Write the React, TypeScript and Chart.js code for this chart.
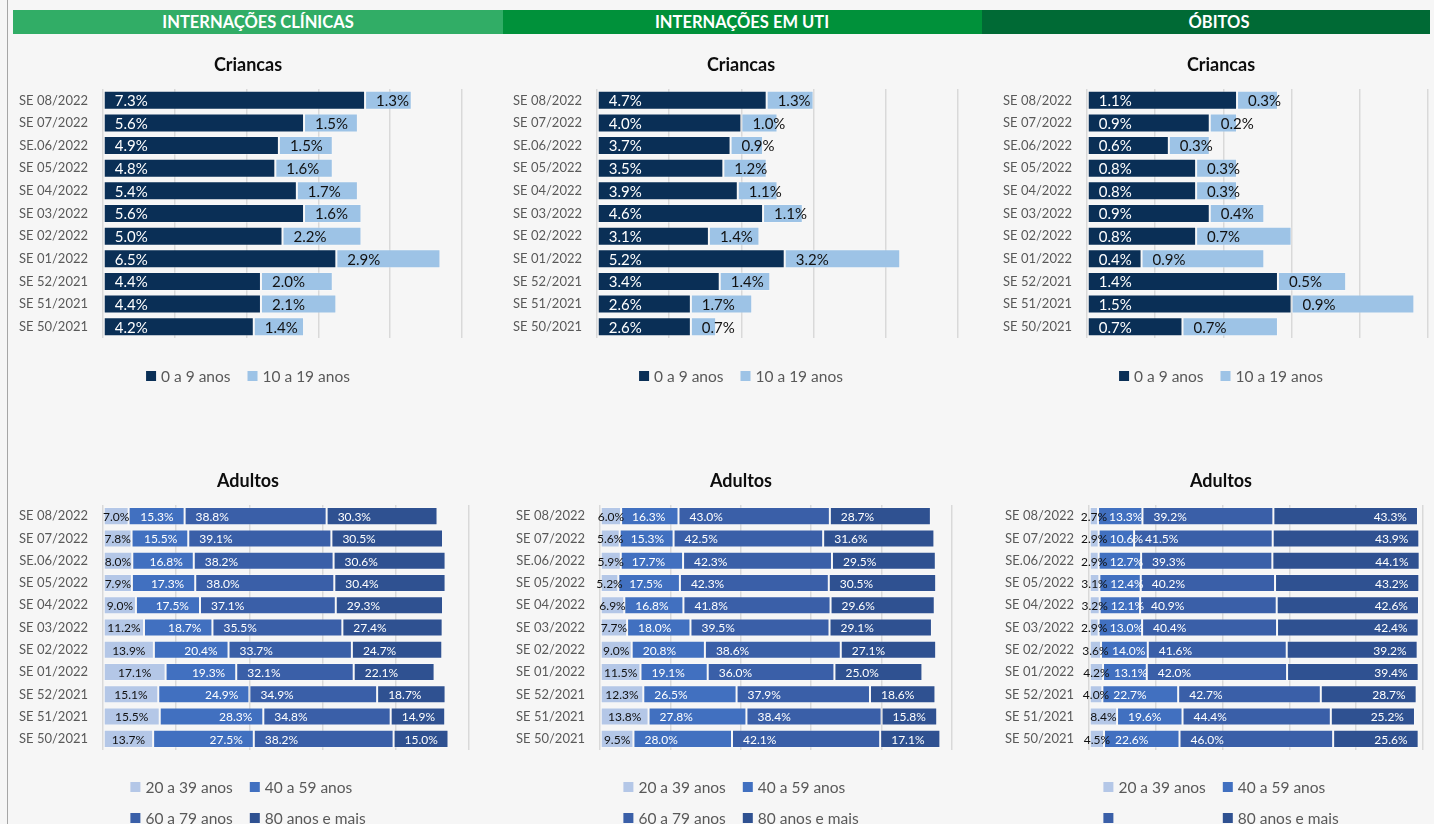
import React, { useEffect, useRef } from 'react';
import { Chart, registerables } from 'chart.js';
Chart.register(...registerables);

const categories = ['SE 08/2022', 'SE 07/2022', 'SE.06/2022', 'SE 05/2022', 'SE 04/2022', 'SE 03/2022', 'SE 02/2022', 'SE 01/2022', 'SE 52/2021', 'SE 51/2021', 'SE 50/2021'];

const kidLabels = ['0 a 9 anos', '10 a 19 anos'];
const adultLabels = ['20 a 39 anos', '40 a 59 anos', '60 a 79 anos', '80 anos e mais'];

// Crianças
const clinKids0to9 = [7.3, 5.6, 4.9, 4.8, 5.4, 5.6, 5.0, 6.5, 4.4, 4.4, 4.2];
const clinKids10to19 = [1.3, 1.5, 1.5, 1.6, 1.7, 1.6, 2.2, 2.9, 2.0, 2.1, 1.4];
const utiKids0to9 = [4.7, 4.0, 3.7, 3.5, 3.9, 4.6, 3.1, 5.2, 3.4, 2.6, 2.6];
const utiKids10to19 = [1.3, 1.0, 0.9, 1.2, 1.1, 1.1, 1.4, 3.2, 1.4, 1.7, 0.7];
const obitKids0to9 = [1.1, 0.9, 0.6, 0.8, 0.8, 0.9, 0.8, 0.4, 1.4, 1.5, 0.7];
const obitKids10to19 = [0.3, 0.2, 0.3, 0.3, 0.3, 0.4, 0.7, 0.9, 0.5, 0.9, 0.7];

// Adultos
const clin20to39 = [7.0, 7.8, 8.0, 7.9, 9.0, 11.2, 13.9, 17.1, 15.1, 15.5, 13.7];
const clin40to59 = [15.3, 15.5, 16.8, 17.3, 17.5, 18.7, 20.4, 19.3, 24.9, 28.3, 27.5];
const clin60to79 = [38.8, 39.1, 38.2, 38.0, 37.1, 35.5, 33.7, 32.1, 34.9, 34.8, 38.2];
const clin80plus = [30.3, 30.5, 30.6, 30.4, 29.3, 27.4, 24.7, 22.1, 18.7, 14.9, 15.0];

const uti20to39 = [6.0, 5.6, 5.9, 5.2, 6.9, 7.7, 9.0, 11.5, 12.3, 13.8, 9.5];
const uti40to59 = [16.3, 15.3, 17.7, 17.5, 16.8, 18.0, 20.8, 19.1, 26.5, 27.8, 28.0];
const uti60to79 = [43.0, 42.5, 42.3, 42.3, 41.8, 39.5, 38.6, 36.0, 37.9, 38.4, 42.1];
const uti80plus = [28.7, 31.6, 29.5, 30.5, 29.6, 29.1, 27.1, 25.0, 18.6, 15.8, 17.1];

const obit20to39 = [2.7, 2.9, 2.9, 3.1, 3.2, 2.9, 3.6, 4.2, 4.0, 8.4, 4.5];
const obit40to59 = [13.3, 10.6, 12.7, 12.4, 12.1, 13.0, 14.0, 13.1, 22.7, 19.6, 22.6];
const obit60to79 = [39.2, 41.5, 39.3, 40.2, 40.9, 40.4, 41.6, 42.0, 42.7, 44.4, 46.0];
const obit80plus = [43.3, 43.9, 44.1, 43.2, 42.6, 42.4, 39.2, 39.4, 28.7, 25.2, 25.6];

const headers = ['INTERNAÇÕES CLÍNICAS', 'INTERNAÇÕES EM UTI', 'ÓBITOS'];

const KID_COLORS = ['#0a2f56', '#9dc3e6'];
const KID_TEXT = ['#ffffff', '#111111'];
const ADULT_COLORS = ['#b4c7e7', '#4170c0', '#3a5fa8', '#2f5191'];
const ADULT_TEXT = ['#111111', '#ffffff', '#ffffff', '#ffffff'];

const FONT = 'Lato, Carlito, "Open Sans", sans-serif';

const valueLabels = {
  id: 'valueLabels',
  afterDatasetsDraw(chart: any, _args: any, opts: any) {
    const ctx = chart.ctx;
    ctx.save();
    ctx.font = `${opts.size}px ${FONT}`;
    ctx.textBaseline = 'middle';
    chart.data.datasets.forEach((ds: any, di: number) => {
      const meta = chart.getDatasetMeta(di);
      const align = opts.align[di];
      ctx.fillStyle = opts.colors[di];
      meta.data.forEach((bar: any, i: number) => {
        const v = ds.data[i];
        const p = bar.getProps(['x', 'y', 'base'], true);
        const text = v.toFixed(1) + '%';
        let tx = 0;
        if (align === 'center') { tx = (p.x + p.base) / 2; ctx.textAlign = 'center'; }
        else if (align === 'start') { tx = p.base + opts.offset; ctx.textAlign = 'left'; }
        else { tx = p.x - opts.offset; ctx.textAlign = 'right'; }
        ctx.fillText(text, tx, p.y + 1);
      });
    });
    ctx.restore();
  },
};

const panelDeco = {
  id: 'panelDeco',
  afterDraw(chart: any, _args: any, opts: any) {
    const ctx = chart.ctx;
    const cx = opts.cx;
    ctx.save();
    ctx.fillStyle = '#0d0d0d';
    ctx.font = `bold ${opts.titleSize}px ${FONT}`;
    ctx.textAlign = 'center';
    ctx.textBaseline = 'middle';
    ctx.fillText(opts.title, cx, opts.titleY);

    ctx.font = `${opts.legendSize}px ${FONT}`;
    ctx.textAlign = 'left';
    const ds = chart.data.datasets;
    const texts: string[] = opts.legendTexts || ds.map((d: any) => d.label);
    const rows: number[][] = opts.rows;
    const box = opts.box;
    const gap = opts.textGap;
    const nCols = Math.max(...rows.map((r) => r.length));
    const colW: number[] = [];
    for (let c = 0; c < nCols; c++) {
      let m = 0;
      rows.forEach((r) => {
        if (r[c] !== undefined) {
          const t = texts[r[c]] || '';
          m = Math.max(m, box + gap + ctx.measureText(t).width);
        }
      });
      colW.push(m);
    }
    const total = colW.reduce((a, b) => a + b, 0) + (nCols - 1) * opts.itemGap;
    const start = cx - total / 2;
    rows.forEach((r, ri) => {
      const y = opts.legendY[ri];
      let x = start;
      r.forEach((idx, c) => {
        ctx.fillStyle = ds[idx].backgroundColor;
        ctx.fillRect(x, y - box / 2, box, box);
        ctx.fillStyle = '#595959';
        ctx.fillText(texts[idx] || '', x + box + gap, y + 1);
        x += colW[c] + opts.itemGap;
      });
    });
    ctx.restore();
  },
};

type Panel = {
  x: number; y: number; w: number; h: number; cx: number;
  yW: number; padT: number; padR: number; padB: number;
  max: number; step: number; barPct: number;
  title: string; titleY: number; legendY: number[]; rows: number[][];
  series: number[][]; labels: string[]; colors: string[]; textColors: string[];
  align: string[]; labelSize: number; legendTexts?: string[];
};

function ChartPanel({ p }: { p: Panel }) {
  const ref = useRef<HTMLCanvasElement>(null);
  useEffect(() => {
    const chart = new Chart(ref.current as HTMLCanvasElement, {
      type: 'bar',
      data: {
        labels: categories,
        datasets: p.series.map((s, i) => ({
          label: p.labels[i],
          data: s,
          backgroundColor: p.colors[i],
          borderColor: 'rgba(255,255,255,0.25)',
          borderWidth: 1,
          borderSkipped: false,
          categoryPercentage: 1,
          barPercentage: p.barPct,
        })),
      },
      options: {
        indexAxis: 'y',
        responsive: false,
        maintainAspectRatio: false,
        animation: false,
        layout: { padding: { left: 0, top: p.padT, right: p.padR, bottom: p.padB } },
        scales: {
          x: {
            stacked: true,
            min: 0,
            max: p.max,
            ticks: { display: false, stepSize: p.step },
            grid: { color: '#d9d9d9', lineWidth: 1.5, drawTicks: false },
            border: { display: false },
            afterFit: (s: any) => { s.height = 0; },
          },
          y: {
            stacked: true,
            grid: { display: false, drawTicks: false },
            border: { display: false },
            ticks: { color: '#595959', padding: 15, font: { size: 13, family: FONT } },
            afterFit: (s: any) => { s.width = p.yW; },
          },
        },
        plugins: {
          legend: { display: false },
          title: { display: false },
          tooltip: { enabled: false },
          valueLabels: { size: p.labelSize, align: p.align, colors: p.textColors, offset: 11 },
          panelDeco: {
            cx: p.cx, title: p.title, titleY: p.titleY, titleSize: 18,
            legendY: p.legendY, rows: p.rows, legendSize: 15.5, box: 10, textGap: 5, itemGap: 17,
            legendTexts: p.legendTexts,
          },
        } as any,
      },
      plugins: [valueLabels as any, panelDeco as any],
    });
    return () => chart.destroy();
  }, []);
  return (
    <canvas
      ref={ref}
      width={p.w}
      height={p.h}
      style={{ position: 'absolute', left: p.x, top: p.y, width: p.w, height: p.h }}
    />
  );
}

const cols = [
  { x: 13, w: 470, cx: 235 },
  { x: 497, w: 484, cx: 244 },
  { x: 985, w: 449, cx: 236 },
];

const topCommon = { y: 40, h: 370, padT: 49, padB: 72, titleY: 25, legendY: [336], rows: [[0, 1]], barPct: 0.84, title: 'Criancas', labels: kidLabels, colors: KID_COLORS, textColors: KID_TEXT, align: ['start', 'start'], labelSize: 15 };
const botCommon = { y: 455, h: 369, padT: 50, padB: 74, titleY: 26, legendY: [332, 363], rows: [[0, 1], [2, 3]], barPct: 0.81, title: 'Adultos', labels: adultLabels, colors: ADULT_COLORS, textColors: ADULT_TEXT, labelSize: 12, max: 100, step: 20 };

const panels: Panel[] = [
  { ...topCommon, ...cols[0], yW: 90, padR: 21, max: 10, step: 2, series: [clinKids0to9, clinKids10to19] },
  { ...topCommon, ...cols[1], yW: 100, padR: 23, max: 10, step: 2, series: [utiKids0to9, utiKids10to19] },
  { ...topCommon, ...cols[2], yW: 102, padR: 6, max: 2.5, step: 0.5, series: [obitKids0to9, obitKids10to19] },
  { ...botCommon, ...cols[0], yW: 90, padR: 14, align: ['center', 'end', 'start', 'start'], series: [clin20to39, clin40to59, clin60to79, clin80plus] },
  { ...botCommon, ...cols[1], yW: 103, padR: 29, align: ['center', 'start', 'start', 'start'], series: [uti20to39, uti40to59, uti60to79, uti80plus] },
  { ...botCommon, ...cols[2], yW: 104, padR: 11, align: ['center', 'start', 'start', 'end'], series: [obit20to39, obit40to59, obit60to79, obit80plus], legendTexts: ['20 a 39 anos', '40 a 59 anos', '', '80 anos e mais'] },
];

const headerBoxes = [
  { left: 13, width: 490, bg: '#31ad66', center: 258 },
  { left: 503, width: 479, bg: '#00913a', center: 742 },
  { left: 982, width: 448, bg: '#006a35', center: 1219 },
];

export default function App() {
  return (
    <div style={{ position: 'fixed', left: 0, top: 0, width: 1434, height: 824, background: '#f6f6f6', overflow: 'hidden', fontFamily: FONT }}>
      <div style={{ position: 'absolute', left: 7, top: 0, width: 1, height: 824, background: '#a6a6a6' }} />
      {headerBoxes.map((h, i) => (
        <div key={'h' + i} style={{ position: 'absolute', left: h.left, top: 10, width: h.width, height: 24, background: h.bg }} />
      ))}
      {headerBoxes.map((h, i) => (
        <div key={'t' + i} style={{ position: 'absolute', left: h.center - 200, top: 10, width: 400, height: 24, lineHeight: '24px', textAlign: 'center', color: '#ffffff', fontWeight: 700, fontSize: 16.5 }}>
          {headers[i]}
        </div>
      ))}
      {panels.map((p, i) => (
        <ChartPanel key={i} p={p} />
      ))}
    </div>
  );
}
